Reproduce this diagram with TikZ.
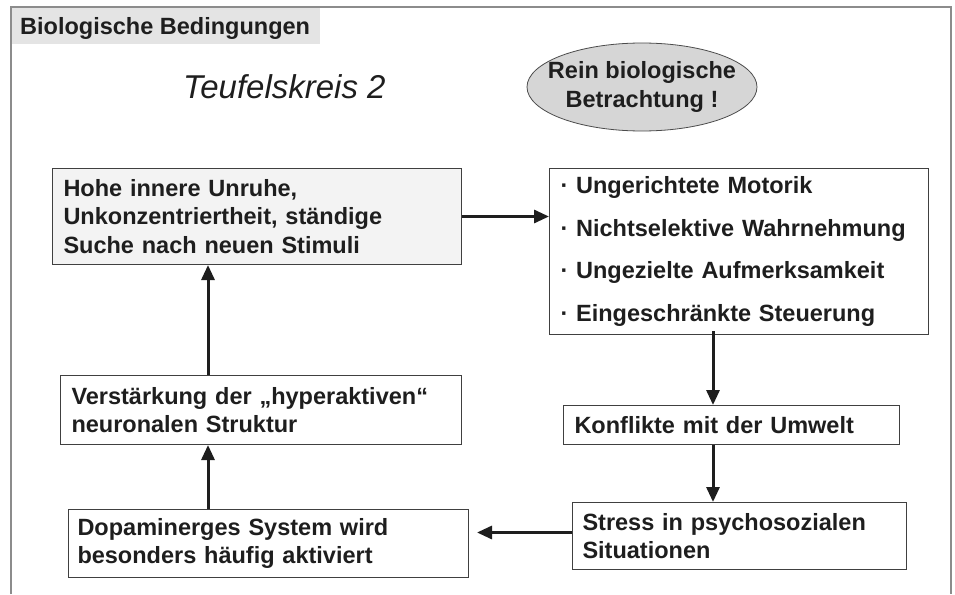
\documentclass[tikz,border=0pt]{standalone}
\usepackage{fontspec}
\setmainfont{Liberation Sans}
\usetikzlibrary{arrows.meta,shapes.geometric}
\definecolor{framegray}{HTML}{8C8C8C}
\definecolor{hdrgray}{HTML}{E4E4E4}
\definecolor{ovalgray}{HTML}{D6D6D6}
\definecolor{boxgray}{HTML}{F3F3F3}
\definecolor{ink}{HTML}{1E1E1E}

\begin{document}
\begin{tikzpicture}[x=1pt,y=-1pt,
  txt/.style={font=\fontsize{23.5}{28.5}\selectfont\bfseries,text=ink},
  box/.style={txt,draw=ink!85,line width=1pt,anchor=north west,align=left,inner xsep=11pt,inner ysep=0pt},
  arr/.style={draw=ink,line width=3pt,-{Triangle[length=15pt,width=13pt]}}]
\useasboundingbox (0,0) rectangle (955,594);
% frame and header
\fill[hdrgray] (11,7) rectangle (320,44);
\draw[framegray,line width=2pt] (11,594) -- (11,7) -- (951,7) -- (951,594);
\node[txt,anchor=base west,inner sep=0pt] (hdr) at (20,34.5) {Biologische Bedingungen};
\node[anchor=base west,inner sep=0pt,text=ink,font=\fontsize{33}{38}\selectfont\itshape] (title) at (183,98) {Teufelskreis 2};
\node[txt,ellipse,draw=ink!80,line width=0.8pt,fill=ovalgray,minimum width=230pt,minimum height=88pt,inner xsep=-14pt,inner ysep=0pt,align=center] (oval) at (642,87) {Rein biologische\\Betrachtung !};
% boxes
\node[box,fill=boxgray,text width=387pt,minimum height=96pt] (unruhe) at (52,168)
  {Hohe innere Unruhe,\\Unkonzentriertheit, ständige\\Suche nach neuen Stimuli};
\node[box,font=\fontsize{23.5}{42.7}\selectfont\bfseries,text width=357pt,minimum height=166pt] (motorik) at (549,168)
  {· Ungerichtete Motorik\\· Nichtselektive Wahrnehmung\\· Ungezielte Aufmerksamkeit\\· Eingeschränkte Steuerung};
\node[box,text width=314pt,minimum height=39pt] (konflikt) at (563,405) {Konflikte mit der Umwelt};
\node[box,inner xsep=10pt,text width=314pt,minimum height=67pt] (stress) at (572,502)
  {Stress in psychosozialen\\Situationen};
\node[box,inner xsep=9pt,text width=382pt,minimum height=68pt] (dopamin) at (68,509)
  {Dopaminerges System wird\\besonders häufig aktiviert};
\node[box,text width=379pt,minimum height=69pt] (struktur) at (60,375)
  {Verstärkung der „hyperaktiven“\\neuronalen Struktur};
% arrows
\coordinate (rspine) at (713,0);
\coordinate (lspine) at (208,0);
\draw[arr] (unruhe.east) -- (unruhe.east -| motorik.west);
\draw[arr] ([yshift=4pt]rspine |- motorik.south) -- (rspine |- konflikt.north);
\draw[arr] (rspine |- konflikt.south) -- (rspine |- stress.north);
\draw[arr,shorten >=8pt] ([yshift=3.5pt]stress.west) -- ([yshift=3.5pt]stress.west -| dopamin.east);
\draw[arr] (lspine |- dopamin.north) -- (lspine |- struktur.south);
\draw[arr] (lspine |- struktur.north) -- (lspine |- unruhe.south);
\end{tikzpicture}
\end{document}
